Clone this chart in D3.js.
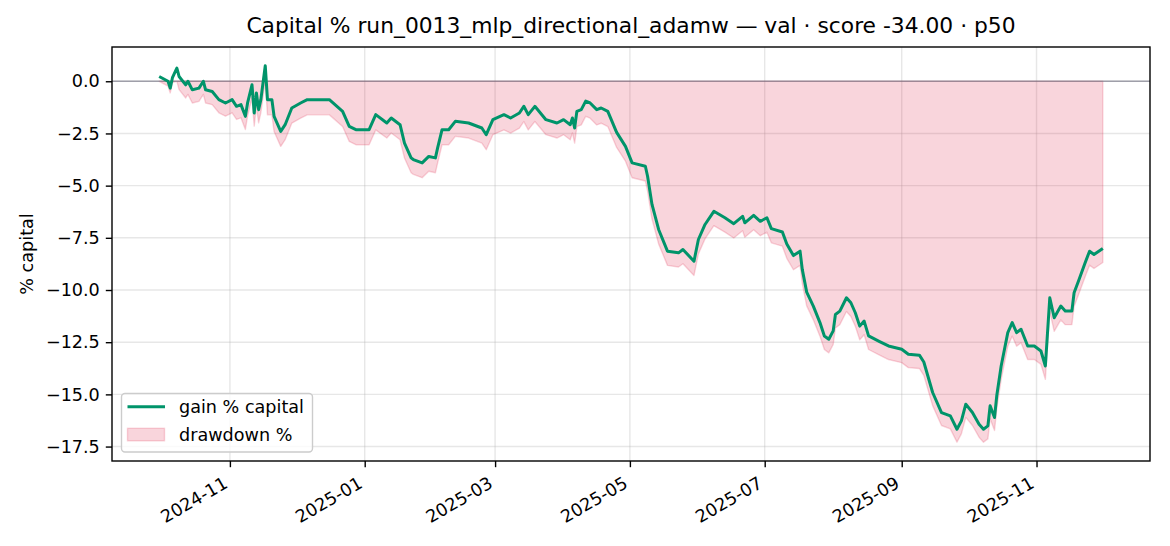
<!DOCTYPE html>
<html>
<head>
<meta charset="utf-8">
<script src="https://cdn.jsdelivr.net/npm/d3@7"></script>
<style>
  html, body { margin: 0; padding: 0; background: #fff; }
  svg { display: block; font-family: "DejaVu Sans", sans-serif; }
</style>
</head>
<body>
<svg id="chart" width="1170" height="546"></svg>
<script>
const titleText = "Capital % run_0013_mlp_directional_adamw — val · score -34.00 · p50";
const yLabelText = "% capital";
const seriesNames = ["gain % capital", "drawdown %"];

const dates = ["2024-09-30","2024-10-04","2024-10-05","2024-10-06","2024-10-08","2024-10-09","2024-10-12","2024-10-13","2024-10-15","2024-10-18",
"2024-10-20","2024-10-21","2024-10-24","2024-10-27","2024-10-30","2024-11-02","2024-11-04","2024-11-06","2024-11-08","2024-11-09",
"2024-11-11","2024-11-12","2024-11-13","2024-11-14","2024-11-15","2024-11-17","2024-11-18","2024-11-20","2024-11-21","2024-11-24",
"2024-11-26","2024-11-29","2024-12-03","2024-12-06","2024-12-16","2024-12-22","2024-12-25","2024-12-28","2025-01-03","2025-01-06",
"2025-01-11","2025-01-13","2025-01-17","2025-01-19","2025-01-22","2025-01-23","2025-01-27","2025-01-30","2025-02-02","2025-02-03",
"2025-02-05","2025-02-08","2025-02-11","2025-02-17","2025-02-23","2025-02-25","2025-02-28","2025-03-05","2025-03-08","2025-03-12",
"2025-03-14","2025-03-16","2025-03-19","2025-03-24","2025-03-29","2025-04-01","2025-04-04","2025-04-05","2025-04-06","2025-04-07",
"2025-04-09","2025-04-11","2025-04-13","2025-04-16","2025-04-18","2025-04-21","2025-04-25","2025-04-29","2025-05-02","2025-05-08",
"2025-05-09","2025-05-11","2025-05-14","2025-05-18","2025-05-23","2025-05-25","2025-05-30","2025-06-01","2025-06-04","2025-06-08",
"2025-06-13","2025-06-17","2025-06-21","2025-06-22","2025-06-26","2025-06-29","2025-07-02","2025-07-04","2025-07-09","2025-07-11",
"2025-07-14","2025-07-17","2025-07-18","2025-07-20","2025-07-23","2025-07-26","2025-07-28","2025-07-30","2025-08-01","2025-08-02",
"2025-08-04","2025-08-07","2025-08-09","2025-08-11","2025-08-13","2025-08-15","2025-08-17","2025-08-22","2025-08-26","2025-09-01",
"2025-09-04","2025-09-09","2025-09-11","2025-09-15","2025-09-19","2025-09-23","2025-09-26","2025-09-28","2025-09-30","2025-10-03",
"2025-10-06","2025-10-08","2025-10-10","2025-10-11","2025-10-13","2025-10-14","2025-10-16","2025-10-19","2025-10-21","2025-10-23",
"2025-10-25","2025-10-28","2025-10-31","2025-11-03","2025-11-05","2025-11-07","2025-11-09","2025-11-12","2025-11-14","2025-11-17",
"2025-11-18","2025-11-20","2025-11-23","2025-11-25","2025-11-27","2025-12-01"];

const gain = [0.23,0.00,-0.33,0.17,0.63,0.23,-0.17,0.00,-0.41,-0.33,
0.00,-0.41,-0.49,-0.88,-1.04,-0.88,-1.20,-1.12,-1.68,-1.04,
-0.17,-1.52,-0.56,-1.36,-0.88,0.74,-0.88,-0.88,-1.68,-2.40,
-2.08,-1.28,-1.04,-0.88,-0.88,-1.44,-2.16,-2.32,-2.32,-1.60,
-2.00,-1.76,-2.08,-2.96,-3.67,-3.75,-3.91,-3.60,-3.67,-3.19,
-2.32,-2.32,-1.92,-2.00,-2.24,-2.56,-1.84,-1.60,-1.76,-1.52,
-1.20,-1.60,-1.20,-1.84,-2.00,-1.84,-2.08,-1.76,-2.24,-1.44,
-1.36,-0.95,-1.04,-1.36,-1.28,-1.44,-2.45,-3.12,-3.91,-4.07,
-4.55,-5.90,-7.10,-8.14,-8.22,-8.06,-8.62,-7.58,-6.86,-6.23,
-6.54,-6.82,-6.47,-6.78,-6.42,-6.71,-6.54,-7.06,-7.22,-7.80,
-8.35,-8.14,-9.01,-10.10,-10.77,-11.56,-12.20,-12.36,-11.96,-11.17,
-11.01,-10.37,-10.61,-11.09,-11.73,-11.49,-12.20,-12.47,-12.68,-12.84,
-13.08,-13.12,-13.45,-14.91,-15.87,-16.03,-16.67,-16.27,-15.47,-15.87,
-16.43,-16.67,-16.51,-15.55,-16.11,-15.07,-13.64,-12.04,-11.56,-12.04,
-11.88,-12.68,-12.68,-12.92,-13.64,-10.37,-11.33,-10.77,-11.01,-11.01,
-10.13,-9.57,-8.69,-8.14,-8.30,-8.01];

const drawdown = [0.00,-0.23,-0.56,-0.06,0.00,-0.40,-0.80,-0.63,-1.04,-0.96,
-0.63,-1.04,-1.12,-1.51,-1.67,-1.51,-1.83,-1.75,-2.31,-1.67,
-0.80,-2.15,-1.19,-1.99,-1.51,0.00,-1.61,-1.61,-2.41,-3.12,
-2.80,-2.01,-1.77,-1.61,-1.61,-2.17,-2.88,-3.04,-3.04,-2.33,
-2.72,-2.48,-2.80,-3.68,-4.38,-4.46,-4.62,-4.31,-4.38,-3.91,
-3.04,-3.04,-2.64,-2.72,-2.96,-3.28,-2.56,-2.33,-2.48,-2.25,
-1.93,-2.33,-1.93,-2.56,-2.72,-2.56,-2.80,-2.48,-2.96,-2.17,
-2.09,-1.68,-1.77,-2.09,-2.01,-2.17,-3.17,-3.83,-4.62,-4.78,
-5.26,-6.60,-7.79,-8.82,-8.90,-8.74,-9.30,-8.27,-7.55,-6.92,
-7.23,-7.51,-7.16,-7.47,-7.11,-7.40,-7.23,-7.74,-7.90,-8.48,
-9.03,-8.82,-9.68,-10.76,-11.43,-12.21,-12.85,-13.01,-12.61,-11.82,
-11.66,-11.03,-11.27,-11.74,-12.38,-12.14,-12.85,-13.12,-13.33,-13.48,
-13.72,-13.76,-14.09,-15.54,-16.49,-16.65,-17.29,-16.89,-16.10,-16.49,
-17.05,-17.29,-17.13,-16.17,-16.73,-15.70,-14.28,-12.69,-12.21,-12.69,
-12.53,-13.33,-13.33,-13.56,-14.28,-11.03,-11.98,-11.43,-11.66,-11.66,
-10.79,-10.23,-9.36,-8.81,-8.97,-8.68];

const yTicks = [0, -2.5, -5, -7.5, -10, -12.5, -15, -17.5];
const xTickDates = ["2024-11-01","2025-01-01","2025-03-01","2025-05-01","2025-07-01","2025-09-01","2025-11-01"];
const xTickLabels = ["2024-11","2025-01","2025-03","2025-05","2025-07","2025-09","2025-11"];

// ---------- layout ----------
const W = 1170, H = 546;
const M = { left: 112, right: 1150, top: 47, bottom: 461 };
const FS = 17.6;
const lineColor = "#00946a";
const fillColor = "rgba(220,20,60,0.18)";

const parse = d3.utcParse("%Y-%m-%d");
const data = dates.map((d, i) => ({ date: parse(d), g: gain[i], dd: drawdown[i] }));

const t0 = data[0].date, t1 = data[data.length - 1].date;
const span = t1 - t0;
const x = d3.scaleUtc()
  .domain([new Date(+t0 - span * 0.05), new Date(+t1 + span * 0.05)])
  .range([M.left, M.right]);

const vmin = d3.min(data, d => Math.min(d.g, d.dd));
const vmax = d3.max(data, d => Math.max(d.g, d.dd, 0));
const vspan = vmax - vmin;
const y = d3.scaleLinear()
  .domain([vmin - vspan * 0.05, vmax + vspan * 0.05])
  .range([M.bottom, M.top]);

const svg = d3.select("#chart");
svg.append("rect").attr("width", W).attr("height", H).attr("fill", "#fff");

// grid
const grid = svg.append("g");
grid.selectAll("line.gx").data(xTickDates).join("line")
  .attr("x1", d => x(parse(d))).attr("x2", d => x(parse(d)))
  .attr("y1", M.top).attr("y2", M.bottom)
  .attr("stroke", "#b0b0b0").attr("stroke-opacity", 0.3).attr("stroke-width", 1.4);
grid.selectAll("line.gy").data(yTicks).join("line")
  .attr("x1", M.left).attr("x2", M.right)
  .attr("y1", d => y(d)).attr("y2", d => y(d))
  .attr("stroke", "#b0b0b0").attr("stroke-opacity", 0.3).attr("stroke-width", 1.4);

// drawdown fill
const area = d3.area().x(d => x(d.date)).y0(y(0)).y1(d => y(d.dd));
svg.append("path").datum(data)
  .attr("d", area(data) + "Z")
  .attr("fill", fillColor)
  .attr("stroke", fillColor)
  .attr("stroke-width", 1.4)
  .attr("stroke-linejoin", "round");

// zero line
svg.append("line")
  .attr("x1", M.left).attr("x2", M.right)
  .attr("y1", y(0)).attr("y2", y(0))
  .attr("stroke", "#707080").attr("stroke-opacity", 0.6).attr("stroke-width", 1.4);

// gain line
const line = d3.line().x(d => x(d.date)).y(d => y(d.g));
svg.append("path").datum(data)
  .attr("d", line)
  .attr("fill", "none")
  .attr("stroke", lineColor)
  .attr("stroke-width", 3.0)
  .attr("stroke-linejoin", "round")
  .attr("stroke-linecap", "butt");

// axes
const yAxis = d3.axisLeft(y).tickValues(yTicks).tickFormat(d3.format(".1f")).tickSize(6.2).tickPadding(6);
const gy = svg.append("g").attr("transform", `translate(${M.left},0)`).call(yAxis);
gy.select(".domain").remove();
gy.selectAll(".tick line").attr("stroke", "#000").attr("stroke-width", 1.4);
gy.selectAll(".tick text").attr("font-size", FS).attr("fill", "#000")
  .attr("font-family", "DejaVu Sans");

const xAxis = d3.axisBottom(x).tickValues(xTickDates.map(parse))
  .tickFormat((d, i) => xTickLabels[i]).tickSize(6.2).tickPadding(6);
const gx = svg.append("g").attr("transform", `translate(0,${M.bottom})`).call(xAxis);
gx.select(".domain").remove();
gx.selectAll(".tick line").attr("stroke", "#000").attr("stroke-width", 1.4);
const hh = FS * 1.05;
gx.selectAll(".tick text")
  .attr("font-size", FS).attr("fill", "#000").attr("font-family", "DejaVu Sans")
  .attr("x", 0).attr("y", 0).attr("dy", "0.35em")
  .attr("text-anchor", "end")
  .attr("transform", `translate(${-0.25 * hh},${12.4 + 0.433 * hh}) rotate(-30)`);

// spines
svg.append("rect")
  .attr("x", M.left).attr("y", M.top)
  .attr("width", M.right - M.left).attr("height", M.bottom - M.top)
  .attr("fill", "none").attr("stroke", "#000").attr("stroke-width", 1.4);

// title
svg.append("text")
  .attr("x", (M.left + M.right) / 2).attr("y", 33)
  .attr("text-anchor", "middle")
  .attr("font-size", 21.8).attr("fill", "#000")
  .text(titleText);

// y label
svg.append("text")
  .attr("transform", `translate(33,${(M.top + M.bottom) / 2}) rotate(-90)`)
  .attr("text-anchor", "middle")
  .attr("font-size", FS).attr("fill", "#000")
  .text(yLabelText);

// legend
const lg = svg.append("g");
lg.append("rect")
  .attr("x", 121.5).attr("y", 393.5).attr("width", 191).attr("height", 58.5)
  .attr("rx", 3.5).attr("ry", 3.5)
  .attr("fill", "rgba(255,255,255,0.8)")
  .attr("stroke", "#cccccc").attr("stroke-width", 1.4);
lg.append("line")
  .attr("x1", 127.5).attr("x2", 165).attr("y1", 406.7).attr("y2", 406.7)
  .attr("stroke", lineColor).attr("stroke-width", 3.0);
lg.append("rect")
  .attr("x", 127.5).attr("y", 428.3).attr("width", 37).attr("height", 12.5)
  .attr("fill", fillColor).attr("stroke", fillColor).attr("stroke-width", 1.4);
lg.append("text").attr("x", 179).attr("y", 406.7).attr("dy", "0.35em")
  .attr("font-size", FS).attr("fill", "#000").text(seriesNames[0]);
lg.append("text").attr("x", 179).attr("y", 434.5).attr("dy", "0.35em")
  .attr("font-size", FS).attr("fill", "#000").text(seriesNames[1]);
</script>
</body>
</html>
